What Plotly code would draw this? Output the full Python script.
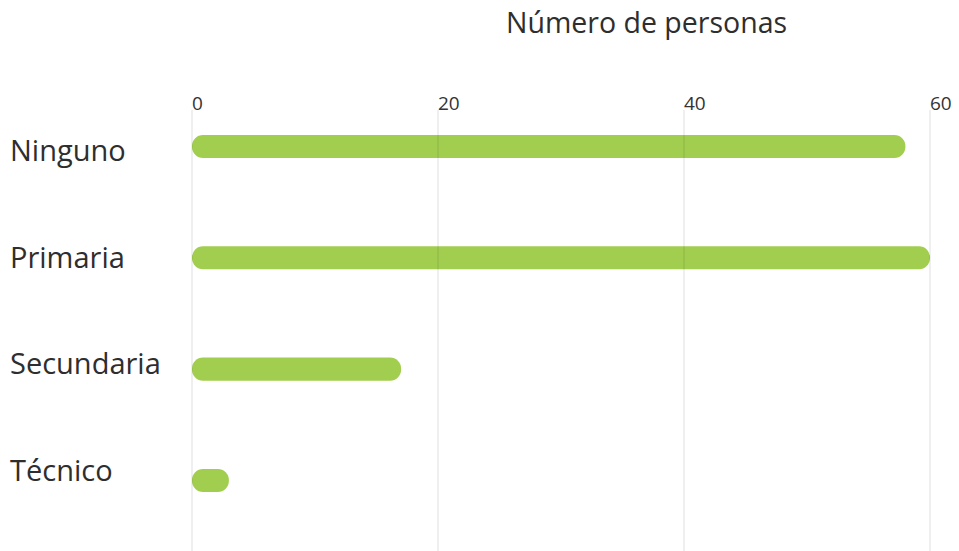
import plotly.graph_objects as go

# Nivel educativo y número de personas
categorias = ["Ninguno", "Primaria", "Secundaria", "Técnico"]
personas = [58, 60, 17, 3]
ticks_x = [0, 20, 40, 60]
titulo = "Número de personas"

COLOR_BARRA = "#a2ce4f"
FUENTE = "Open Sans"
TEXTO = "#2e2e2e"

W, H = 959, 551
M_L, M_R, M_T, M_B = 190, 27, 110, 0
plot_w = W - M_L - M_R
plot_h = H - M_T - M_B
x_pad = 0.1626  # small padding so the 0 and 60 gridlines are not on the frame edge

idx = list(range(len(categorias)))

fig = go.Figure()
fig.add_trace(go.Bar(
    y=idx, x=personas, base=[0] * len(personas),
    orientation="h", width=0.207,
    marker=dict(color=COLOR_BARRA, cornerradius="50%", line=dict(width=0)),
    hoverinfo="skip", showlegend=False,
))

# Vertical gridlines drawn over the bars
for t in ticks_x:
    fig.add_shape(
        type="line", xref="x", yref="paper", x0=t, x1=t, y0=0, y1=1,
        line=dict(color="rgba(0,0,0,0.13)", width=1), layer="above",
    )

# Category labels, left-aligned at the edge of the figure
paso_px = 106.7
for i, cat in enumerate(categorias):
    centro_px = 149.5 + paso_px * i
    fig.add_annotation(
        text=cat, xref="paper", yref="paper",
        x=(8 - M_L) / plot_w, y=1 - (centro_px - M_T) / plot_h,
        xanchor="left", yanchor="middle", showarrow=False,
        font=dict(family=FUENTE, size=29, color=TEXTO),
    )

fig.add_annotation(
    text=titulo, xref="paper", yref="paper",
    x=(646 - M_L) / plot_w, y=1 + (M_T - 22) / plot_h,
    xanchor="center", yanchor="middle", showarrow=False,
    font=dict(family=FUENTE, size=28.5, color=TEXTO),
)

fig.update_layout(
    width=W, height=H,
    margin=dict(l=M_L, r=M_R, t=M_T, b=M_B, pad=0),
    paper_bgcolor="white", plot_bgcolor="white",
    barmode="overlay",
    font=dict(family=FUENTE, color=TEXTO),
    xaxis=dict(
        side="top", range=[-x_pad, 60 + x_pad], tickvals=ticks_x,
        showgrid=False, zeroline=False, showline=False, ticks="",
        ticklabelposition="outside right",
        ticklabelstandoff=-5,
        tickfont=dict(family=FUENTE, size=19, color="#333333"),
    ),
    yaxis=dict(
        range=[3.634, -0.328], showticklabels=False, showgrid=False,
        zeroline=False, showline=False, ticks="",
    ),
)

fig.write_html("out.html")
